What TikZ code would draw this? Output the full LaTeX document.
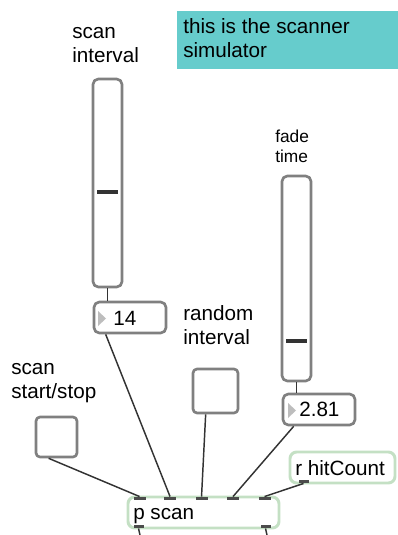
\documentclass[tikz,border=0pt]{standalone}
\usepackage{fontspec}
\setmainfont{Liberation Sans}
\usetikzlibrary{calc}
\definecolor{boxgray}{HTML}{808080}
\definecolor{cordgray}{HTML}{333333}
\definecolor{subgreen}{HTML}{C4E0C4}
\definecolor{commentteal}{HTML}{66CCCC}
\definecolor{arrowgray}{HTML}{BDBDBD}
\tikzset{
  uibox/.style={draw=boxgray, line width=2pt, rounded corners=4pt, fill=white, inner sep=0pt},
  patchbox/.style={draw=subgreen, line width=2.2pt, rounded corners=5pt, fill=white, inner sep=0pt},
  lbl/.style={anchor=base west, inner sep=0pt, align=left, font=\fontsize{15.5}{18}\selectfont},
  smalllbl/.style={lbl, font=\fontsize{13}{15}\selectfont},
  cord/.style={draw=cordgray, line width=1.1pt},
  knob/.style={draw=cordgray, line width=3pt},
  plug/.style={fill=black!70},
}

\begin{document}
\begin{tikzpicture}[x=0.75pt, y=-0.75pt, line join=round]
    \useasboundingbox (0,0) rectangle (398,535);

    % comment (labels sit on the baseline of their last line)
    \fill[commentteal] (177,11) rectangle (398,69);
    \node[lbl] (note) at (183,58) {this is the scanner\\simulator};

    % labels
    \node[lbl] (lblInterval) at (72,63) {scan\\interval};
    \node[smalllbl] (lblFade) at (275,162) {fade\\time};
    \node[lbl] (lblRandom) at (183,344) {random\\interval};
    \node[lbl] (lblStart) at (11,398) {scan\\start/stop};

    % sliders
    \node[uibox, minimum width=21.75pt, minimum height=156pt] (sliderA) at (107.5,183) {};
    \draw[knob] (97,192) -- (118,192);
    \node[uibox, minimum width=21.75pt, minimum height=153.75pt] (sliderB) at (296.5,278.5) {};
    \draw[knob] (286,341) -- (307,341);

    % number boxes
    \node[uibox, minimum width=54pt, minimum height=23.25pt] (numA) at (130,317.5) {};
    \fill[arrowgray] (98,311) -- (106,318.5) -- (98,326) -- cycle;
    \node[lbl] (numAval) at (113,325) {14};
    \node[uibox, minimum width=54pt, minimum height=23.25pt] (numB) at (319,409.5) {};
    \fill[arrowgray] (288,403) -- (296,410.5) -- (288,418) -- cycle;
    \node[lbl] (numBval) at (299,416) {2.81};

    % toggles
    \node[uibox, rounded corners=3pt, minimum width=30.75pt, minimum height=30pt] (toggleA) at (56.5,437) {};
    \node[uibox, rounded corners=3pt, minimum width=33.75pt, minimum height=33pt] (toggleB) at (215.5,391) {};

    % objects
    \node[patchbox, minimum width=78.75pt, minimum height=23.25pt] (hitBox) at (342.5,467.5) {};
    \node[lbl] (hitTxt) at (295,475) {r hitCount};
    \node[patchbox, minimum width=113.25pt, minimum height=23.25pt] (pscan) at (203.5,512.5) {};
    \node[lbl] (pscanTxt) at (133,519) {p scan};

    \foreach \dx [count=\i] in {13,43.5,75,106.5,138} {
        \coordinate (in\i) at ($(pscan.north west)+(\dx,1)$);
        \fill[plug] ($(in\i)+(-6,0)$) rectangle ($(in\i)+(6,3.5)$);
    }
    \foreach \dx/\nm in {12/outL,139/outR} {
        \coordinate (\nm) at ($(pscan.south west)+(\dx,-1)$);
        \fill[plug] ($(\nm)+(-5,-3.5)$) rectangle ($(\nm)+(5,0)$);
    }
    \coordinate (hitOut) at ($(hitBox.south west)+(15,-1)$);
    \fill[plug] ($(hitOut)+(-5,-3.5)$) rectangle ($(hitOut)+(5,0)$);
    \coordinate (edgeL) at (140,535);
    \coordinate (edgeR) at (267,535);

    % cords
    \draw[cord] (sliderA.south) -- (numA.north -| sliderA.south);
    \draw[cord] (sliderB.south) -- (numB.north -| sliderB.south);
    \draw[cord] ($(toggleA.south west)+(14,0)$) -- (in1);
    \draw[cord] ($(numA.south west)+(13,0)$) -- (in2);
    \draw[cord] ($(toggleB.south west)+(14,0)$) -- (in3);
    \draw[cord] ($(numB.south west)+(12,0)$) -- (in4);
    \draw[cord] (hitOut) -- (in5);
    \draw[cord] (outL) -- (edgeL);
    \draw[cord] (outR) -- (edgeR);

\end{tikzpicture}
\end{document}
